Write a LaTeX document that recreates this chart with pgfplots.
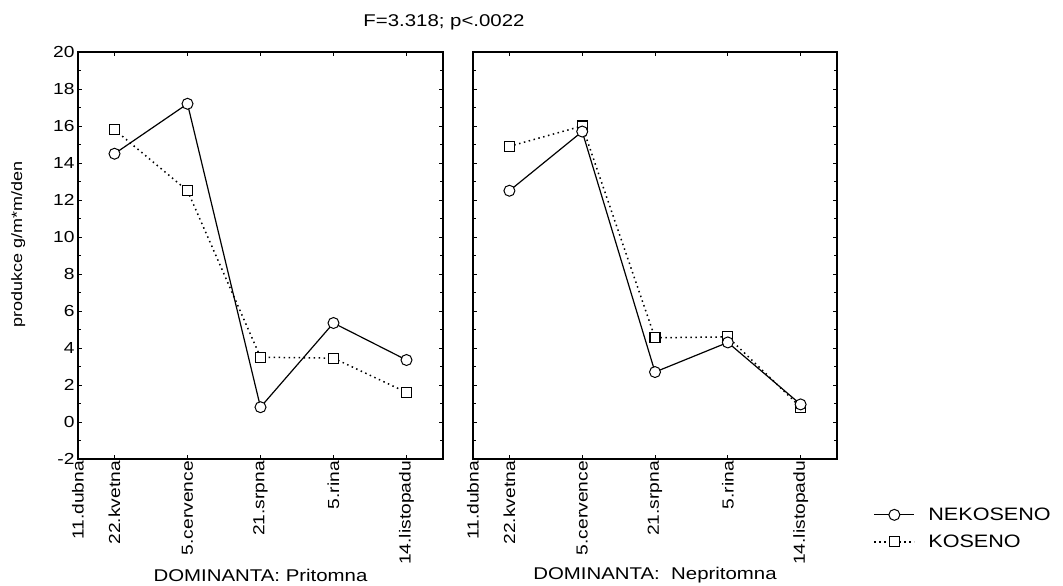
\documentclass[border=0pt]{standalone}
\usepackage{fontspec}
\setmainfont[FakeStretch=1.2]{Liberation Sans}
\usepackage{pgfplots}
\pgfplotsset{compat=1.18}
\begin{document}
\begin{tikzpicture}[x=1bp,y=1bp]
\useasboundingbox (0,0) rectangle (1063,586);
\pgfplotsset{
  every axis/.append style={
    scale only axis,
    height=407bp,
    xmin=0.5, xmax=5.5, ymin=-2, ymax=20,
    xtick={0.5,1,2,3,4,5},
    xticklabels={11.dubna,22.kvetna,5.cervence,21.srpna,5.rina,14.listopadu},
    ytick={-2,0,...,20},
    minor y tick num=1,
    tick align=inside,
    tick pos=both,
    major tick length=4bp,
    minor tick length=3bp,
    axis line style={line width=1.2bp},
    every tick/.style={black,line width=0.8bp},
    /pgf/number format/assume math mode=true,
    tick label style={font=\fontsize{16bp}{18bp}\selectfont},
    x tick label style={rotate=90,anchor=east,inner sep=2bp},
    xlabel style={font=\fontsize{17bp}{20bp}\selectfont,at={(axis description cs:0.5,-0.285)},anchor=center},
    clip=false,
  },
  nek/.style={black,line width=1.2bp,mark=*,mark size=5.5bp,mark options={solid,fill=white,draw=black,line width=1bp}},
  kos/.style={black,line width=1.5bp,dash pattern=on 1.5bp off 3.5bp,mark=square*,mark size=5bp,mark options={solid,fill=white,draw=black,line width=1.1bp}},
}
\node[font=\fontsize{17bp}{20bp}\selectfont] at (444,564) {F=3.318; p<.0022};

\begin{axis}[
  at={(78bp,127bp)}, anchor=south west,
  width=365bp,
  ylabel={produkce g/m*m/den},
  ylabel style={font=\fontsize{15bp}{17bp}\selectfont,at={(axis description cs:-0.164,0.526)},anchor=center},
  xlabel={DOMINANTA: Pritomna},
]
\addplot[kos] coordinates {(1,15.8) (2,12.5) (3,3.5) (4,3.45) (5,1.6)};
\addplot[nek] coordinates {(1,14.5) (2,17.2) (3,0.8) (4,5.35) (5,3.35)};
\end{axis}

\begin{axis}[
  at={(473bp,127bp)}, anchor=south west,
  width=364bp,
  yticklabels={},
  xlabel={DOMINANTA:\ \ Nepritomna},
  legend style={at={(axis description cs:1.10,-0.117)},anchor=north west,draw=none,fill=none,
    font=\fontsize{18bp}{20bp}\selectfont,row sep=11bp,inner sep=0pt,
    nodes={inner sep=1bp}},
  legend cell align=left,
  legend image code/.code={\draw[mark repeat=2,mark phase=2,#1] plot coordinates {(0bp,0bp) (20bp,0bp) (40bp,0bp)}; \path[draw=none,fill=none] (0bp,0bp) rectangle (53bp,0.1bp);},
  reverse legend,
]
\addplot[kos] coordinates {(1,14.9) (2,16.0) (3,4.55) (4,4.6) (5,0.8)};
\addplot[nek] coordinates {(1,12.5) (2,15.7) (3,2.7) (4,4.3) (5,0.95)};
\legend{KOSENO,NEKOSENO}
\end{axis}
\end{tikzpicture}
\end{document}
